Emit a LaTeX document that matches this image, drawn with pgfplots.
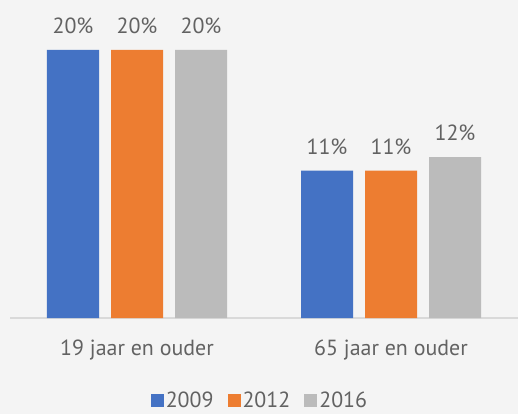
\documentclass[border=0pt]{standalone}
\usepackage{fontspec}
\setmainfont{PT Sans}
\usepackage{pgfplots}
\pgfplotsset{compat=1.18}
\definecolor{cblue}{HTML}{4472C4}
\definecolor{corange}{HTML}{ED7D31}
\definecolor{cgray}{HTML}{BBBBBB}
\definecolor{bg}{HTML}{F4F4F4}
\definecolor{txt}{HTML}{626262}
\definecolor{axl}{HTML}{D9D9D9}
\begin{document}
\begin{tikzpicture}
\path[use as bounding box, fill=bg] (-10bp,-96bp) rectangle (508bp,318bp);
\begin{axis}[
  scale only axis,
  width=508bp, height=294.8bp,
  xmin=-0.5, xmax=1.5,
  ymin=0, ymax=22,
  ybar=12bp, bar width=52bp,
  axis x line=bottom, axis y line=none,
  x axis line style={draw=axl, line width=1.2pt, -},
  xtick={0,1}, xticklabels={19 jaar en ouder, 65 jaar en ouder},
  major tick length=0pt,
  /pgf/number format/assume math mode=true,
  xticklabel style={font=\fontsize{22}{26}\selectfont, text=txt, inner sep=0pt, yshift=-22bp},
  nodes near coords={\pgfmathprintnumber{\pgfplotspointmeta}\%},
  nodes near coords style={font=\fontsize{22}{26}\selectfont, text=txt, inner sep=0pt, anchor=south, yshift=16bp},
  legend style={at={(0.492,-0.28)}, anchor=center, draw=none, fill=none,
    legend columns=3, font=\fontsize{22}{26}\selectfont, text=txt,
    /tikz/every even column/.append style={column sep=12bp}},
  legend image code/.code={\fill[#1] (2bp,-6bp) rectangle (15bp,7bp);},
  clip=false,
]
\addplot[fill=cblue, draw=none] coordinates {(0,20) (1,11)};
\addplot[fill=corange, draw=none] coordinates {(0,20) (1,11)};
\addplot[fill=cgray, draw=none] coordinates {(0,20) (1,12)};
\legend{2009,2012,2016}
\end{axis}
\end{tikzpicture}
\end{document}
